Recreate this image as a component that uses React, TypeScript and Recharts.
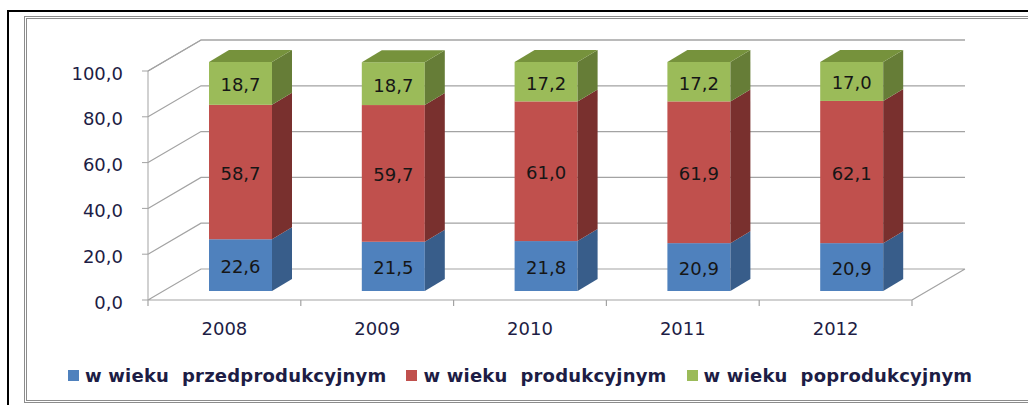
import { BarChart, Bar, XAxis, YAxis, CartesianGrid, LabelList } from "recharts";

const years = ["2008", "2009", "2010", "2011", "2012"];
const przedprodukcyjny = [22.6, 21.5, 21.8, 20.9, 20.9];
const produkcyjny = [58.7, 59.7, 61.0, 61.9, 62.1];
const poprodukcyjny = [18.7, 18.7, 17.2, 17.2, 17.0];
const yTicks = [0, 20, 40, 60, 80, 100];
const seriesNames = ["w wieku  przedprodukcyjnym", "w wieku  produkcyjnym", "w wieku  poprodukcyjnym"];

const data = years.map((year, i) => ({
  year,
  przed: przedprodukcyjny[i],
  prod: produkcyjny[i],
  poprod: poprodukcyjny[i],
}));

const SERIES = [
  { key: "przed", front: "#4F81BD", side: "#385D8A", top: "#4A79B2" },
  { key: "prod", front: "#C0504D", side: "#79302E", top: "#A9423F" },
  { key: "poprod", front: "#9BBB59", side: "#667D37", top: "#76923C" },
];

// 3d geometry: wall depth and where the columns sit inside it
const WALL_X = 53;
const WALL_Y = 31;
const SHIFT_X = 16;
const SHIFT_Y = 9;
const BOX_X = 20;
const BOX_Y = 12;

const WIDTH = 1028;
const HEIGHT = 405;
const X_AXIS_H = 30;
const MARGIN = { top: 71, right: 116, bottom: 105 - X_AXIS_H, left: 88 };
const FLOOR_Y = HEIGHT - 105;

const GRID = "#a3a3a3";
const TEXT = "#1d1d45";
const FONT = "'DejaVu Sans', sans-serif";

const fmt = (v: number) => v.toFixed(1).replace(".", ",");

function Box3D(props: any) {
  const { x, y, width: w, height: h, fill, side, top, showTop } = props;
  if (w == null || h == null) return null;
  const x0 = x + SHIFT_X;
  const y0 = y - SHIFT_Y;
  return (
    <g>
      <rect x={x0} y={y0} width={w} height={h} fill={fill} />
      <polygon
        points={`${x0 + w},${y0} ${x0 + w + BOX_X},${y0 - BOX_Y} ${x0 + w + BOX_X},${y0 + h - BOX_Y} ${x0 + w},${y0 + h}`}
        fill={side}
      />
      {showTop && (
        <polygon
          points={`${x0},${y0} ${x0 + BOX_X},${y0 - BOX_Y} ${x0 + w + BOX_X},${y0 - BOX_Y} ${x0 + w},${y0}`}
          fill={top}
        />
      )}
    </g>
  );
}

// each gridline runs along the side wall and the back wall; the floor also gets
// its front edge, right edge and the category separator ticks
const gridLine = (p: any) => {
  const { x1, x2, y1 } = p;
  let d = `M${x1},${y1}L${x1 + WALL_X},${y1 - WALL_Y}L${x2 + WALL_X},${y1 - WALL_Y}`;
  if (Math.abs(y1 - FLOOR_Y) < 1) {
    d += `M${x2},${y1}L${x2 + WALL_X},${y1 - WALL_Y}M${x1},${y1}L${x2},${y1}`;
    const step = (x2 - x1) / years.length;
    for (let i = 0; i <= years.length; i++) d += `M${x1 + step * i},${y1}L${x1 + step * i},${y1 + 6}`;
  }
  return <path key={`g-${y1}`} d={d} stroke={GRID} strokeWidth={1.2} fill="none" />;
};

const renderLabel = (p: any) => {
  const { x, y, width, height, value } = p;
  return (
    <text
      x={x + SHIFT_X + width / 2}
      y={y - SHIFT_Y + height / 2 + 8}
      textAnchor="middle"
      fontFamily={FONT}
      fontSize={18}
      fill="#161616"
    >
      {fmt(value)}
    </text>
  );
};

const YTick = ({ x, y, payload }: any) => (
  <text x={x} y={y + 8.5} textAnchor="end" fontFamily={FONT} fontSize={18} fill={TEXT}>
    {fmt(payload.value)}
  </text>
);

const XTick = ({ x, y, payload }: any) => (
  <text x={x} y={y + 13} textAnchor="middle" fontFamily={FONT} fontSize={18} fill={TEXT}>
    {payload.value}
  </text>
);

export default function App() {
  return (
    <div style={{ position: "absolute", left: 0, top: 0, width: WIDTH, height: HEIGHT, overflow: "hidden", background: "#fff" }}>
      <div style={{ position: "absolute", left: 7, top: 10, width: 1100, height: 500, border: "2px solid #000" }} />
      <div style={{ position: "absolute", left: 24, top: 16, width: 1100, height: 381, border: "3px double #8c8c8c" }} />
      <div style={{ position: "absolute", left: 0, top: 0 }}>
        <BarChart width={WIDTH} height={HEIGHT} data={data} margin={MARGIN}>
          <CartesianGrid vertical={false} horizontal={gridLine} />
          <XAxis dataKey="year" axisLine={false} tickLine={false} tickSize={0} tickMargin={22} tick={<XTick />} height={X_AXIS_H} />
          <YAxis domain={[0, 100]} ticks={yTicks} tickSize={6} tickMargin={19} stroke={GRID} width={60} tick={<YTick />} />
          {SERIES.map((s, i) => (
            <Bar
              key={s.key}
              dataKey={s.key}
              stackId="a"
              barSize={63}
              fill={s.front}
              isAnimationActive={false}
              shape={(p: any) => <Box3D {...p} side={s.side} top={s.top} showTop={i === SERIES.length - 1} />}
            >
              <LabelList dataKey={s.key} content={renderLabel} />
            </Bar>
          ))}
        </BarChart>
      </div>
      <div style={{ position: "absolute", left: 68, top: 365, display: "flex", alignItems: "center", gap: 20, fontFamily: FONT, fontWeight: "bold", fontSize: 18, letterSpacing: 0.2, color: TEXT, whiteSpace: "pre" }}>
        {seriesNames.map((name, i) => (
          <div key={name} style={{ display: "flex", alignItems: "center" }}>
            <span style={{ display: "inline-block", width: 11, height: 11, background: SERIES[i].front, marginRight: 6 }} />
            <span>{name}</span>
          </div>
        ))}
      </div>
    </div>
  );
}
